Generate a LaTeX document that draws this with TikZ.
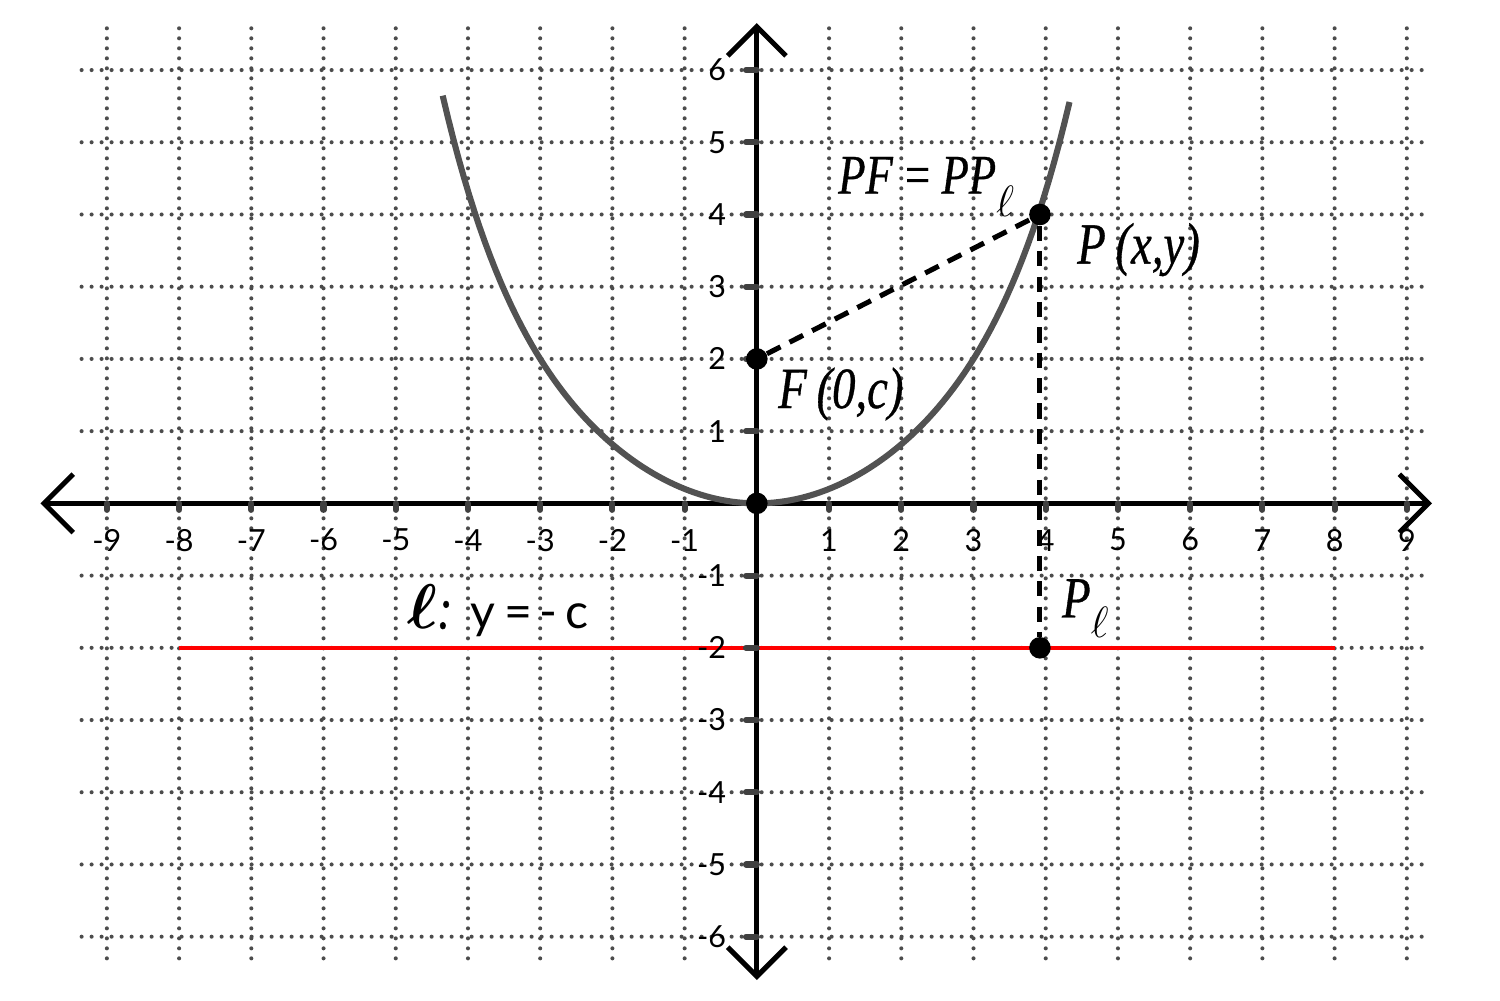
\documentclass[tikz,border=0pt]{standalone}
\usepackage{amsmath,amssymb}
\usepackage{fontspec}
\usepackage{tikz}
\usetikzlibrary{arrows.meta}
\newfontfamily\tickfont{Lato}
\newfontfamily\labelfont[FakeStretch=0.8, FakeBold=0.6]{Liberation Serif}

\begin{document}
\begin{tikzpicture}[
    gridline/.style={draw=black!70, line width=1.6pt, line cap=round, dash pattern=on 0pt off 3.94pt},
    axis/.style={line width=2pt, {Straight Barb[length=11.5pt, width=23pt, line width=2pt]}-{Straight Barb[length=11.5pt, width=23pt, line width=2pt]}},
    tick/.style={line width=2.4pt, draw=black!75, line cap=round},
    ticklabel/.style={font=\tickfont\fontsize{12}{14}\selectfont, inner sep=0pt},
    lbl/.style={font=\labelfont\itshape\fontsize{#1}{24}\selectfont, inner sep=0pt},
    lbl/.default=23,
    dot/.style={circle, fill=black, inner sep=0pt, minimum size=8.5pt},
    dashline/.style={line width=2pt, dash pattern=on 6pt off 4pt},
    curve/.style={line width=2.4pt, draw=black!68},
    directrix/.style={line width=1.6pt, draw=red}
]
\useasboundingbox (-10.48,-6.88) rectangle (10.29,6.97);

% dotted grid
\foreach \x in {-9,...,9}
    \draw[gridline] (\x,-6.3) -- (\x,6.6);
\foreach \y in {-6,...,-1,1,2,...,6}
    \draw[gridline] (-9.35,\y) -- (9.3,\y);

% axes
\coordinate (xleft) at (-9.92,0);
\coordinate (xright) at (9.35,0);
\coordinate (ybottom) at (0,-6.6);
\coordinate (ytop) at (0,6.65);
\draw[axis] (xleft) -- (xright);
\draw[axis] (ybottom) -- (ytop);

% directrix
\coordinate (dleft) at (-8,-2);
\coordinate (dright) at (8,-2);
\draw[directrix] (dleft) -- (dright);

\foreach \x in {-9,...,-1,1,2,...,9} {
    \draw[tick] (\x,0) -- (\x,-0.09);
    \node[ticklabel] (xlab\x) at (\x,-0.51) {\x};
}
\foreach \y in {-6,...,-1,1,2,...,6} {
    \draw[tick] (-0.15,\y) -- (0,\y);
    \node[ticklabel, anchor=east] (ylab\y) at (-0.42,\y) {\y};
}

% parabola
\draw[curve] plot[domain=-4.35:4.33, samples=120] (\x,{0.2*\x*\x+0.00027*(\x*\x)^3});

\node[dot] (O) at (0,0) {};
\node[dot] (F) at (0,2) {};
\node[dot] (P) at (3.92,4) {};
\node[dot] (Pl) at (3.92,-2) {};

\draw[dashline] (F) -- (P);
\draw[dashline] (P) -- (Pl);

\node[lbl=22, anchor=base west] (eqlabel) at (1.12,4.29) {PF\,=\,PP\raisebox{-9pt}{\fontsize{16}{16}\selectfont$\ell$}};
\node[lbl, anchor=base west] (Plabel) at (4.43,3.32) {P\,(x,y)};
\node[lbl, anchor=base west] (Flabel) at (0.29,1.32) {F\,(0,c)};
\node[lbl, anchor=base west] (Pllabel) at (4.22,-1.58) {P\raisebox{-8pt}{\fontsize{16}{16}\selectfont$\ell$}};
\node[anchor=base west, inner sep=0pt] (dirlabel) at (-4.85,-1.73)
    {{\fontsize{27}{27}\selectfont$\boldsymbol{\ell}$}{\labelfont\itshape\fontsize{23}{24}\selectfont:}\hspace{7pt}{\tickfont\fontsize{19}{24}\selectfont y\hspace{3.5pt}=\hspace{3pt}-\hspace{3pt}c}};
\end{tikzpicture}
\end{document}
